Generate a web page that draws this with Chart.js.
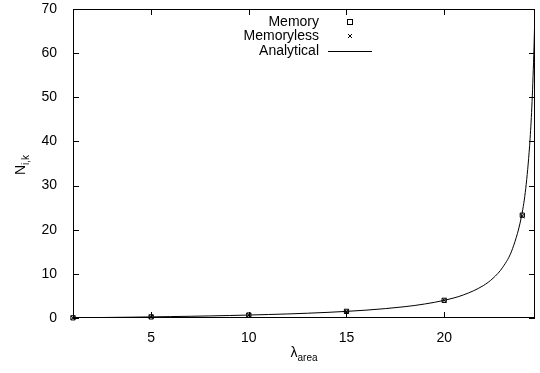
<!DOCTYPE html>
<html>
<head>
<meta charset="utf-8">
<script src="https://cdn.jsdelivr.net/npm/chart.js@4.4.0/dist/chart.umd.min.js"></script>
<style>
  html, body { margin:0; padding:0; background:#fff; }
  #wrap { width:540px; height:373px; position:relative; }
</style>
</head>
<body>
<div id="wrap"><canvas id="chart"></canvas></div>
<script>
// values
const simX = [1, 5, 10, 15, 20, 24];
const memoryY = [0.04, 0.25, 0.67, 1.5, 4.0, 23.3];
const memorylessY = [0.04, 0.25, 0.66, 1.5, 4.0, 23.1];
const curveX = [1, 2, 3, 4, 5, 6, 7, 8, 9, 10, 11, 12, 13, 14, 15, 16, 17, 18, 19, 20,
  21, 22, 22.5, 23, 23.5, 24, 24.2, 24.4, 24.5, 24.6, 24.65];
const curveY = [0.04, 0.09, 0.14, 0.19, 0.25, 0.32, 0.39, 0.47, 0.56, 0.67, 0.79, 0.92, 1.08, 1.27, 1.5, 1.78, 2.13, 2.57, 3.17, 4.0,
  5.25, 7.33, 9.0, 11.5, 15.7, 24.0, 30.3, 40.7, 49.0, 61.5, 70.4];
const xTicks = [5, 10, 15, 20];
const yTicks = [0, 10, 20, 30, 40, 50, 60, 70];
const seriesNames = ['Memory', 'Memoryless', 'Analytical'];

const FONT = '"Liberation Sans", Arial, sans-serif';
const toPts = (xs, ys) => xs.map((x, i) => ({ x: x, y: ys[i] }));

// gnuplot style frame: box, inward ticks on all sides, legend, axis titles
const frame = {
  id: 'frame',
  afterDraw(chart) {
    const { ctx, chartArea: a, scales: { x, y } } = chart;
    ctx.save();
    ctx.strokeStyle = '#000'; ctx.lineWidth = 1;
    ctx.strokeRect(a.left + 0.5, a.top + 0.5, a.right - a.left - 1, a.bottom - a.top - 1);
    ctx.beginPath();
    xTicks.forEach(v => {
      const px = Math.round(x.getPixelForValue(v)) + 0.5;
      ctx.moveTo(px, a.bottom); ctx.lineTo(px, a.bottom - 6);
      ctx.moveTo(px, a.top); ctx.lineTo(px, a.top + 6);
    });
    yTicks.forEach(v => {
      const py = Math.round(y.getPixelForValue(v)) + 0.5;
      ctx.moveTo(a.left, py); ctx.lineTo(a.left + 6, py);
      ctx.moveTo(a.right, py); ctx.lineTo(a.right - 6, py);
    });
    ctx.stroke();

    // legend
    ctx.fillStyle = '#000';
    ctx.font = '14px ' + FONT;
    ctx.textAlign = 'right'; ctx.textBaseline = 'middle';
    const rows = [22, 36, 51];
    seriesNames.forEach((n, i) => ctx.fillText(n, 319, rows[i]));
    ctx.strokeRect(347.5, rows[0] - 2.5, 5, 5);
    ctx.beginPath();
    ctx.moveTo(348, rows[1] - 2); ctx.lineTo(352, rows[1] + 2);
    ctx.moveTo(352, rows[1] - 2); ctx.lineTo(348, rows[1] + 2);
    ctx.moveTo(328, rows[2] + 0.5); ctx.lineTo(372, rows[2] + 0.5);
    ctx.stroke();

    // x title: lambda_area
    ctx.textAlign = 'left'; ctx.textBaseline = 'alphabetic';
    ctx.font = '14px ' + FONT;
    const lw = ctx.measureText('λ').width;
    ctx.font = '10px ' + FONT;
    const sw = ctx.measureText('area').width;
    const cx = (a.left + a.right) / 2 - (lw + sw) / 2;
    ctx.font = '14px ' + FONT;
    ctx.fillText('λ', cx, 357);
    ctx.font = '10px ' + FONT;
    ctx.fillText('area', cx + lw, 361);

    // y title: N_{i,k}
    ctx.translate(25, 165);
    ctx.rotate(-Math.PI / 2);
    ctx.font = '14px ' + FONT;
    const nw = ctx.measureText('N').width;
    ctx.font = '10px ' + FONT;
    const kw = ctx.measureText('i,k').width;
    ctx.font = '14px ' + FONT;
    ctx.fillText('N', -(nw + kw) / 2, 0);
    ctx.font = '10px ' + FONT;
    ctx.fillText('i,k', -(nw + kw) / 2 + nw, 4);
    ctx.restore();
  }
};

new Chart(document.getElementById('chart'), {
  type: 'scatter',
  data: {
    datasets: [
      { label: seriesNames[0], data: toPts(simX, memoryY), pointStyle: 'rect', clip: false,
        pointRadius: 3, borderColor: '#000', backgroundColor: 'rgba(0,0,0,0)', borderWidth: 1, showLine: false },
      { label: seriesNames[1], data: toPts(simX, memorylessY), pointStyle: 'crossRot', clip: false,
        pointRadius: 3, borderColor: '#000', borderWidth: 1, showLine: false },
      { label: seriesNames[2], data: toPts(curveX, curveY), showLine: true, pointRadius: 0,
        borderColor: '#000', borderWidth: 1, cubicInterpolationMode: 'monotone' }
    ]
  },
  options: {
    responsive: true, maintainAspectRatio: false, animation: false,
    layout: { padding: { left: 0, top: 0, right: 4, bottom: 0 } },
    plugins: { legend: { display: false }, tooltip: { enabled: false } },
    scales: {
      x: {
        type: 'linear', min: 1, max: 24.65,
        grid: { display: false }, border: { display: false },
        afterBuildTicks: s => { s.ticks = xTicks.map(v => ({ value: v })); },
        afterFit: s => { s.height = 55; },
        ticks: { color: '#000', font: { family: FONT, size: 14 }, padding: 4, maxRotation: 0 }
      },
      y: {
        min: 0, max: 70,
        grid: { display: false }, border: { display: false },
        afterBuildTicks: s => { s.ticks = yTicks.map(v => ({ value: v })); },
        afterFit: s => { s.width = 73; s.paddingTop = 9; },
        ticks: { color: '#000', font: { family: FONT, size: 14 }, padding: 8 }
      }
    }
  },
  plugins: [frame]
});
</script>
</body>
</html>
